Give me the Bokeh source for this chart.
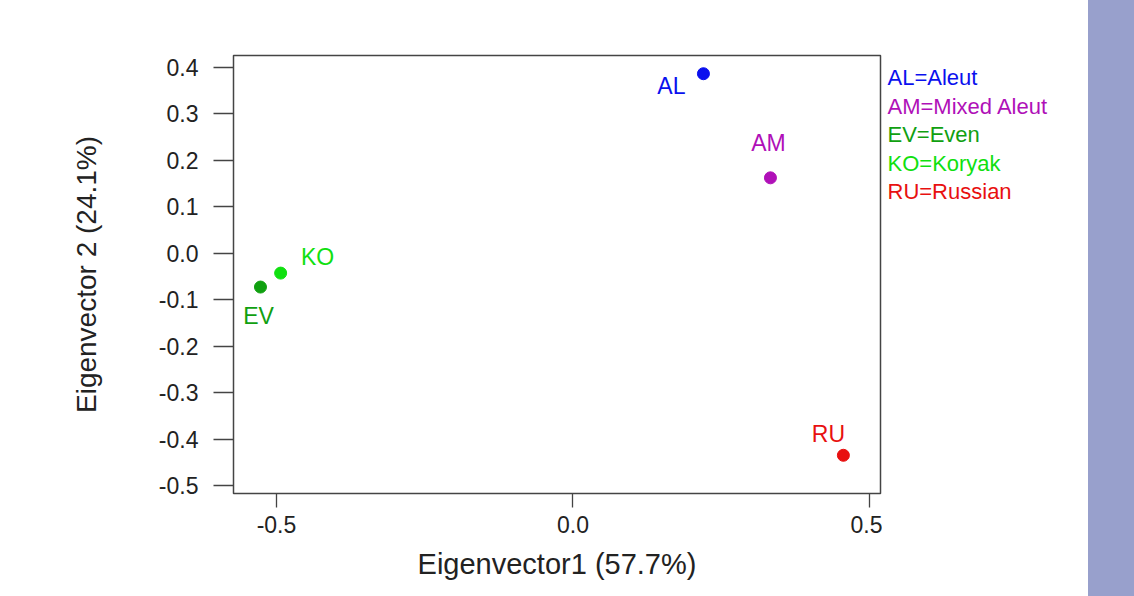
from bokeh.plotting import figure
from bokeh.models import Range1d, FixedTicker, PrintfTickFormatter, ColumnDataSource, Div
from bokeh.layouts import row
from bokeh.core.properties import value
from bokeh.embed import file_html
from bokeh.resources import INLINE

# Data
codes = ["AL", "AM", "EV", "KO", "RU"]
ev1 = [0.220, 0.333, -0.527, -0.493, 0.456]
ev2 = [0.386, 0.162, -0.073, -0.043, -0.435]
colors = ["#0A10EE", "#B010B8", "#10A010", "#10E010", "#E81010"]
legend_text = ["AL=Aleut", "AM=Mixed Aleut", "EV=Even", "KO=Koryak", "RU=Russian"]
x_ticks = [-0.5, 0.0, 0.5]
y_ticks = [-0.5, -0.4, -0.3, -0.2, -0.1, 0.0, 0.1, 0.2, 0.3, 0.4]
x_title = "Eigenvector1 (57.7%)"
y_title = "Eigenvector 2 (24.1%)"

# label offsets (style, pixels)
lab_dx = [-32, -2, -2, 37, -15]
lab_dy = [12, -35, 29, -16, -21]

FONT = "Liberation Sans"
H = 596
FRAME_TOP, FRAME_BOTTOM = 55, 493

src = ColumnDataSource(dict(x=ev1, y=ev2, code=codes, color=colors, dx=lab_dx, dy=lab_dy))

p = figure(width=882, height=H, output_backend="svg", toolbar_location=None,
           x_range=Range1d(-0.5725, 0.5186), y_range=Range1d(-0.5172, 0.4252),
           frame_width=647, frame_height=FRAME_BOTTOM - FRAME_TOP,
           min_border_left=233, min_border_right=2, min_border_top=FRAME_TOP,
           min_border_bottom=H - FRAME_BOTTOM)
p.grid.visible = False
p.background_fill_color = "white"
p.border_fill_color = "white"
p.outline_line_color = "#444444"
p.outline_line_width = 1.5

for ax in (p.xaxis[0], p.yaxis[0]):
    ax.axis_line_color = None
    ax.major_tick_in = 0
    ax.major_tick_line_color = "#444444"
    ax.major_tick_line_width = 1.3
    ax.minor_tick_line_color = None
    ax.major_label_text_font = FONT
    ax.major_label_text_font_size = "23px"
    ax.major_label_text_color = "#222222"
    ax.axis_label_text_font = FONT
    ax.axis_label_text_font_style = "normal"
    ax.axis_label_text_color = "#222222"
    ax.formatter = PrintfTickFormatter(format="%.1f")

p.xaxis.major_tick_out = 14
p.yaxis.major_tick_out = 20
p.xaxis.ticker = FixedTicker(ticks=x_ticks)
p.yaxis.ticker = FixedTicker(ticks=y_ticks)
p.xaxis.axis_label = x_title
p.yaxis.axis_label = y_title
p.xaxis.axis_label_text_font_size = "29px"
p.yaxis.axis_label_text_font_size = "28px"
p.xaxis.major_label_standoff = 8
p.yaxis.major_label_standoff = 15
p.xaxis.axis_label_standoff = 12
p.yaxis.axis_label_standoff = 54

p.scatter("x", "y", source=src, size=12, color="color", line_color="color")
p.text("x", "y", text="code", source=src, text_color="color",
       x_offset="dx", y_offset="dy", text_align="center", text_baseline="middle",
       text_font=value(FONT), text_font_size="23px")

# key panel to the right of the plot frame; its frame is aligned with the main
# frame by the row layout, so map it to page pixels (y downward)
LW = 206
leg = figure(width=LW, height=H, output_backend="svg", toolbar_location=None,
             x_range=Range1d(0, LW), y_range=Range1d(FRAME_BOTTOM, FRAME_TOP),
             min_border=0, outline_line_color=None)
leg.axis.visible = False
leg.grid.visible = False
leg_src = ColumnDataSource(dict(
    x=[5] * len(legend_text),
    y=[77 + i * 28.5 for i in range(len(legend_text))],
    t=legend_text, c=colors))
leg.text("x", "y", text="t", source=leg_src, text_color="c",
         text_align="left", text_baseline="middle",
         text_font=value(FONT), text_font_size="22px")

band = Div(width=46, height=H, margin=(0, 0, 0, 0), styles={"background-color": "#98A0CC"})
layout = row(p, leg, band, spacing=0)

open("out.html", "w").write(file_html(layout, INLINE))
